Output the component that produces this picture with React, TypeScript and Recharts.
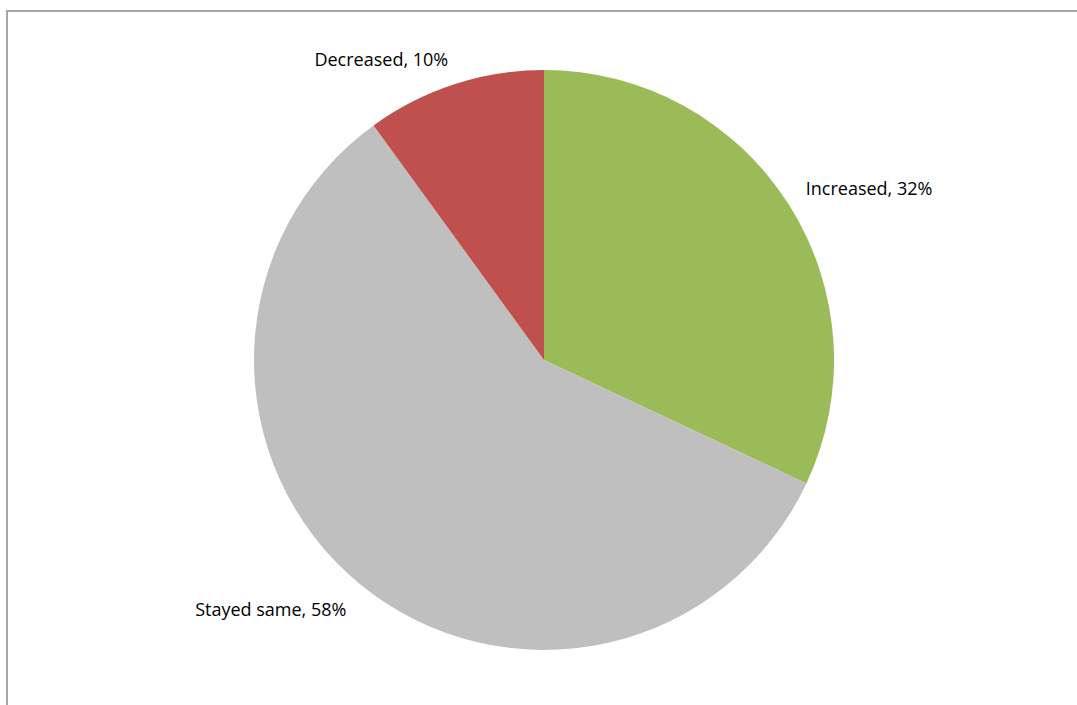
import { Cell, Pie, PieChart } from 'recharts';

const categories = ['Increased', 'Stayed same', 'Decreased'];
const shares = [32, 58, 10];
const colors = ['#9BBB59', '#BFBFBF', '#C0504D'];

const data = categories.map((name, i) => ({ name, value: shares[i] }));

const RADIAN = Math.PI / 180;

const renderLabel = (props: any) => {
  const { cx, cy, midAngle, outerRadius, index } = props;
  const r = outerRadius + 20;
  const x = cx + r * Math.cos(-midAngle * RADIAN);
  let y = cy + r * Math.sin(-midAngle * RADIAN);
  // nudge labels away from the pie vertically, like the office chart does
  y += y < cy ? -6 : 10;
  return (
    <text
      x={x}
      y={y}
      fill="#000"
      fontSize={18}
      fontFamily="'Open Sans', sans-serif"
      textAnchor={x > cx ? 'start' : 'end'}
      dominantBaseline="central"
    >
      {`${categories[index]}, ${shares[index]}%`}
    </text>
  );
};

const App = () => {
  return (
    <div
      style={{
        position: 'absolute',
        left: 6,
        top: 10,
        width: 1100,
        height: 720,
        borderTop: '2px solid #a6a6a6',
        borderLeft: '2px solid #a6a6a6',
      }}
    >
      <PieChart width={1072} height={696}>
        <Pie
          data={data}
          dataKey="value"
          cx={531}
          cy={343}
          outerRadius={290}
          startAngle={90}
          endAngle={-270}
          stroke="none"
          label={renderLabel}
          labelLine={false}
          isAnimationActive={false}
        >
          {data.map((entry, i) => (
            <Cell key={`cell-${entry.name}`} fill={colors[i]} />
          ))}
        </Pie>
      </PieChart>
    </div>
  );
};

export default App;
